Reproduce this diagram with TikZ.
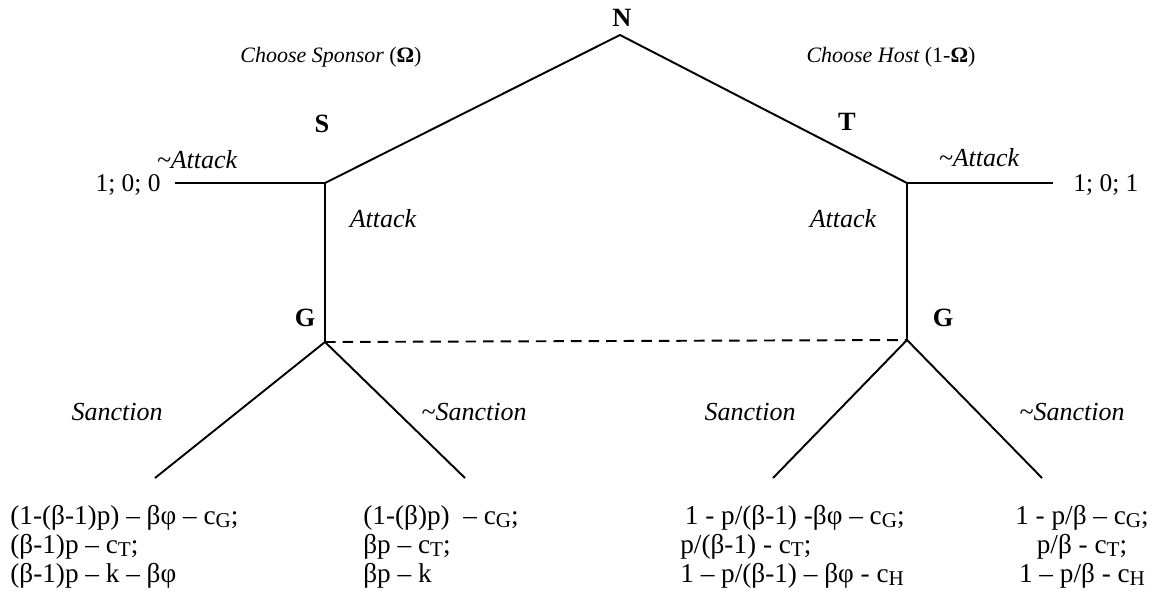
\documentclass[tikz,border=0pt]{standalone}
\usepackage{fontspec}
\setmainfont{Liberation Serif}
\usetikzlibrary{positioning}
\newcommand{\lowidx}[1]{\raisebox{-0.25ex}{\fontsize{12}{13}\selectfont #1}}

\begin{document}
\begin{tikzpicture}[
    x=0.02cm,y=-0.02cm,
    branch/.style={line width=1.1pt},
    info/.style={branch,dashed,dash pattern=on 6pt off 4pt},
    player/.style={font=\fontsize{15}{18}\selectfont\bfseries,inner sep=0pt},
    act/.style={font=\fontsize{14.8}{17}\selectfont\itshape,inner sep=0pt},
    choice/.style={act,font=\fontsize{12.5}{15}\selectfont\itshape},
    endpay/.style={font=\fontsize{14.5}{17}\selectfont,inner sep=0pt},
    payoff/.style={font=\fontsize{15.5}{16.4}\selectfont,inner sep=0pt,align=left,anchor=north west},
    rpayoff/.style={payoff,align=center,anchor=north}
  ]
    \useasboundingbox (0,0) rectangle (1164,599);
    % decision points
    \coordinate (nat) at (620,35);
    \coordinate (spon) at (325,183);
    \coordinate (host) at (907,183);
    \coordinate (gl) at (325,342);
    \coordinate (gr) at (907,340);
    \coordinate (sna) at (175,183);
    \coordinate (hna) at (1053,183);
    \coordinate (ll) at (155,478);
    \coordinate (lr) at (465,478);
    \coordinate (rl) at (773,478);
    \coordinate (rr) at (1042,478);
    % branches
    \draw[branch] (spon) -- (nat) -- (host);
    \draw[branch] (sna) -- (spon) -- (gl);
    \draw[branch] (hna) -- (host) -- (gr);
    \draw[branch] (ll) -- (gl) -- (lr);
    \draw[branch] (rl) -- (gr) -- (rr);
    \draw[info] (gl) -- (gr);
    % players
    \node[player] (labN) at (622,18) {N};
    \node[player] (labS) at (322,124) {S};
    \node[player] (labT) at (847,122) {T};
    \node[player] (labGl) at (305,318) {G};
    \node[player] (labGr) at (943,318) {G};
    % moves
    \node[choice] (chs) at (331,57) {Choose Sponsor \upshape(\textbf{Ω})};
    \node[choice] (chh) at (891,57) {Choose Host \upshape(1-\textbf{Ω})};
    \node[act] (nal) at (197,160) {\textasciitilde Attack};
    \node[act] (nar) at (979,158) {\textasciitilde Attack};
    \node[act] (atl) at (383,219) {Attack};
    \node[act] (atr) at (843,219) {Attack};
    \node[act] (snl) at (117,412) {Sanction};
    \node[act] (nsl) at (474,412) {\textasciitilde Sanction};
    \node[act] (snr) at (750,412) {Sanction};
    \node[act] (nsr) at (1072,412) {\textasciitilde Sanction};
    % payoffs
    \node[endpay,anchor=east] (pay1) at (161,185) {1; 0; 0};
    \node[endpay,anchor=west] (pay2) at (1073,185) {1; 0; 1};
    \node[payoff] (pay3) at (10,505) {(1-(β-1)p) – βφ – c\lowidx{G};\\(β-1)p – c\lowidx{T};\\(β-1)p – k – βφ};
    \node[payoff] (pay4) at (363,505) {(1-(β)p)\ \ – c\lowidx{G};\\βp – c\lowidx{T};\\βp – k};
    \node[payoff] (pay5) at (680,505) {\,1 - p/(β-1) -βφ – c\lowidx{G};\\p/(β-1) - c\lowidx{T};\\1 – p/(β-1) – βφ - c\lowidx{H}};
    \node[rpayoff] (pay6) at (1082,505) {1 - p/β – c\lowidx{G};\\p/β - c\lowidx{T};\\1 – p/β - c\lowidx{H}};
  \end{tikzpicture}
\end{document}
